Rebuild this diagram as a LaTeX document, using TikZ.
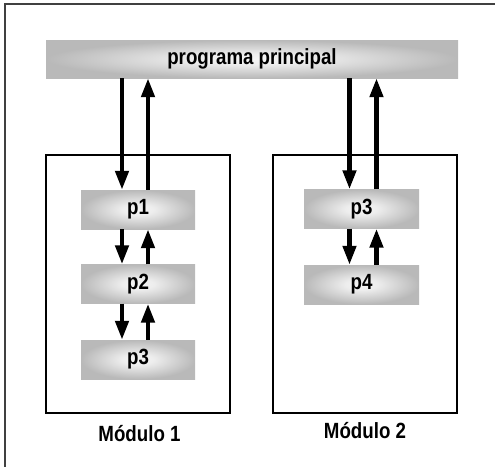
\documentclass[tikz,border=0pt]{standalone}
\usepackage{fontspec}
\setmainfont{Liberation Sans}
\newfontfamily\labelfont[FakeStretch=0.85]{Liberation Sans Bold}
\usetikzlibrary{arrows.meta}

% soft grey box: light centre fading to grey at the edges
\pgfdeclareradialshading{boxshade}{\pgfpoint{0bp}{0bp}}{%
  color(0bp)=(gray!8); color(7bp)=(gray!14); color(25bp)=(gray!55); color(50bp)=(gray!55)}

\tikzset{
  procbox/.style={shade, shading=boxshade, inner sep=0pt,
    font=\labelfont\fontsize{22}{26}\selectfont},
  modbox/.style={draw=black, line width=2.4pt},
  flow/.style={line width=4.5pt, -{Triangle[length=19pt,width=13pt]}},
  modlabel/.style={anchor=base, font=\labelfont\fontsize{22}{26}\selectfont},
  frameline/.style={draw=black!75, line width=1.8pt}
}

\begin{document}
\begin{tikzpicture}[x=1pt, y=-1pt]
  \useasboundingbox (0,0) rectangle (495,467);

  % open frame: only the top and left edges show
  \coordinate (fTL) at (5,4);
  \coordinate (fTR) at (495,4);
  \coordinate (fBL) at (5,467);
  \draw[frameline] (fTR) -- (fTL) -- (fBL);

  % main program bar
  \node[procbox, minimum width=412pt, minimum height=38pt] (main) at (252,59) {programa principal};

  % module frames
  \node[modbox, minimum width=184pt, minimum height=258pt, inner sep=0pt] (mod1) at (138,284) {};
  \node[modbox, minimum width=184pt, minimum height=258pt, inner sep=0pt] (mod2) at (365,284) {};

  % procedures
  \node[procbox, minimum width=114pt, minimum height=39pt] (p1)  at (138,209.5) {p1};
  \node[procbox, minimum width=114pt, minimum height=39pt] (p2)  at (138,284)   {p2};
  \node[procbox, minimum width=114pt, minimum height=39pt] (p3a) at (138,359.5) {p3};
  \node[procbox, minimum width=115pt, minimum height=39pt] (p3b) at (361.5,209) {p3};
  \node[procbox, minimum width=115pt, minimum height=39pt] (p4)  at (361.5,284.5) {p4};

  % module captions
  \node[modlabel] (lab1) at (139.5,441) {Módulo 1};
  \node[modlabel] (lab2) at (365,438) {Módulo 2};

  % arrow columns
  \coordinate (aD1) at (122,0);
  \coordinate (aU1) at (148,0);
  \coordinate (aD2) at (349.5,0);
  \coordinate (aU2) at (376.5,0);

  % calls and returns, module 1
  \draw[flow] (main.south -| aD1) -- (p1.north -| aD1);
  \draw[flow] (p1.north -| aU1) -- (main.south -| aU1);
  \draw[flow] (p1.south -| aD1) -- (p2.north -| aD1);
  \draw[flow] (p2.north -| aU1) -- (p1.south -| aU1);
  \draw[flow] (p2.south -| aD1) -- (p3a.north -| aD1);
  \draw[flow] (p3a.north -| aU1) -- (p2.south -| aU1);

  % calls and returns, module 2
  \draw[flow] (main.south -| aD2) -- (p3b.north -| aD2);
  \draw[flow] (p3b.north -| aU2) -- (main.south -| aU2);
  \draw[flow] (p3b.south -| aD2) -- (p4.north -| aD2);
  \draw[flow] (p4.north -| aU2) -- (p3b.south -| aU2);
\end{tikzpicture}
\end{document}
